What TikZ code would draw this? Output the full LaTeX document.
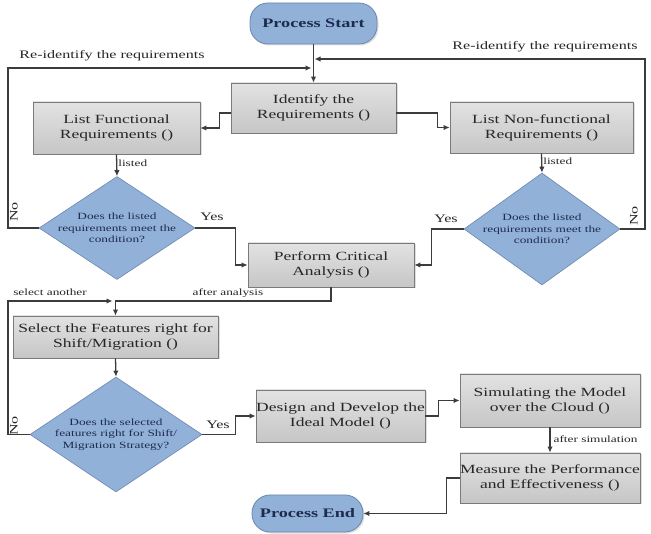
\documentclass[tikz,border=0pt]{standalone}
\usepackage{fontspec}
\setmainfont{Liberation Serif}[FakeStretch=1.4]
\usetikzlibrary{shapes.geometric,arrows.meta,shadows}
\definecolor{boxtop}{HTML}{E2E2E2}
\definecolor{boxbot}{HTML}{C6C6C6}
\definecolor{boxline}{HTML}{7A7A7A}
\definecolor{bluefill}{HTML}{92B1D9}
\definecolor{blueline}{HTML}{6A86AE}
\definecolor{linec}{HTML}{3C3C3C}
\definecolor{navy}{HTML}{1E2C4C}
\definecolor{txt}{HTML}{262626}
\tikzset{
  box/.style={draw=boxline, line width=0.8pt, top color=boxtop, bottom color=boxbot,
    align=center, inner sep=0pt, text=txt, font=\fontsize{12.5}{15}\selectfont,
    drop shadow={opacity=0.25, shadow xshift=1.5pt, shadow yshift=-1.5pt}},
  term/.style={draw=blueline, line width=0.8pt, fill=bluefill, rounded corners=18pt,
    align=center, inner sep=0pt, text=navy, font=\fontsize{13}{15}\selectfont\bfseries,
    drop shadow={opacity=0.25, shadow xshift=1.5pt, shadow yshift=-1.5pt}},
  dia/.style={diamond, draw=blueline, line width=0.6pt, fill=bluefill, inner sep=0pt},
  diatext/.style={align=center, text=navy, font=\fontsize{9.5}{11.7}\selectfont},
  arr/.style={draw=linec, line width=1.3pt, -{Latex[length=6pt,width=5.5pt]}},
  lbl/.style={text=txt, font=\fontsize{9.5}{11}\selectfont, inner sep=1pt},
  biglbl/.style={text=txt, font=\fontsize{11.5}{13}\selectfont, inner sep=1pt},
}
\begin{document}
\begin{tikzpicture}[x=1pt,y=-1pt]
\useasboundingbox (0,0) rectangle (651,534);
% nodes
\node[term, minimum width=127pt, minimum height=41pt] (start) at (313.5,23.5) {Process Start};
\node[box, minimum width=165pt, minimum height=50pt] (ident) at (313.5,108) {Identify the\\Requirements ()};
\node[box, minimum width=167pt, minimum height=52pt] (lf) at (116.5,128) {List Functional\\Requirements ()};
\node[box, minimum width=183pt, minimum height=51pt] (lnf) at (541.5,127.5) {List Non-functional\\Requirements ()};
\node[dia, minimum width=156pt, minimum height=103pt] (d1) at (117,228) {};
\node[diatext] at (d1) {Does the listed\\requirements meet the\\condition?};
\node[dia, minimum width=156pt, minimum height=112pt] (d2) at (542,229) {};
\node[diatext] at (d2) {Does the listed\\requirements meet the\\condition?};
\node[box, minimum width=166pt, minimum height=44pt] (perf) at (331,265) {Perform Critical\\Analysis ()};
\node[box, minimum width=205pt, minimum height=42pt] (sel) at (115.5,337) {Select the Features right for\\Shift/Migration ()};
\node[dia, minimum width=172pt, minimum height=115pt] (d3) at (116,434.5) {};
\node[diatext] at (d3) {Does the selected\\features right for Shift/\\Migration Strategy?};
\node[box, minimum width=169pt, minimum height=52pt] (des) at (340.5,416) {Design and Develop the\\Ideal Model ()};
\node[box, minimum width=180pt, minimum height=53pt] (sim) at (550,400.5) {Simulating the Model\\over the Cloud ()};
\node[box, minimum width=180pt, minimum height=50pt] (meas) at (550,478) {Measure the Performance\\and Effectiveness ()};
\node[term, minimum width=111pt, minimum height=37pt] (end) at (307.5,513.5) {Process End};
% loop corners
\coordinate (ll) at (8,68);
\coordinate (rl) at (645,59);
\coordinate (sl) at (8,301);
% connectors
\draw[arr] (start) -- (ident);
\draw[arr, shorten >=2pt] (d1.west) -| (ll) -- (ll -| start);
\draw[arr, shorten >=1pt] (d2.east) -| (rl) -- (rl -| start);
\draw[arr] ([yshift=-5pt]ident.west) -- ++(-11,0) |- (lf.east);
\draw[arr] ([yshift=-5pt]ident.east) -- ++(41,0) |- (lnf.west);
\draw[arr] (lf.south) -- node[lbl, right, pos=0.4] {listed} (d1.north);
\draw[arr] (lnf.south) -- node[lbl, right, pos=0.4] {listed} (d2.north);
\draw[arr] (d1.east) -- ++(40,0) |- (perf.west);
\draw[arr] (d2.west) -- ++(-32,0) |- (perf.east);
\draw[arr] (perf.south) -- (perf.south |- sl) -| (sel.north);
\draw[arr, shorten >=3pt] (d3.west) -| (sl) -- (sl -| sel.north);
\draw[arr] (sel.south) -- (d3.north);
\draw[arr] (d3.east) -- ++(33,0) |- (des.west);
\draw[arr] (des.east) -- ++(13,0) |- (sim.west);
\draw[arr] (sim.south) -- node[lbl, right, pos=0.45, xshift=2pt] {after simulation} (meas.north);
\draw[arr] (meas.west) -- ++(-13,0) |- (end.east);
% labels
\node[biglbl] (t1) at (112,56) {Re-identify the requirements};
\node[biglbl] (t2) at (545,47) {Re-identify the requirements};
\node[biglbl] (y1) at (212,217) {Yes};
\node[biglbl] (y2) at (446,219) {Yes};
\node[biglbl] (y3) at (218,425) {Yes};
\node[biglbl, rotate=90] (n1) at (14,212) {No};
\node[biglbl, rotate=90] (n2) at (634,216) {No};
\node[biglbl, rotate=90] (n3) at (14,426) {No};
\node[lbl] (sa) at (50,292) {select another};
\node[lbl] (aa) at (228,293) {after analysis};
\end{tikzpicture}
\end{document}
